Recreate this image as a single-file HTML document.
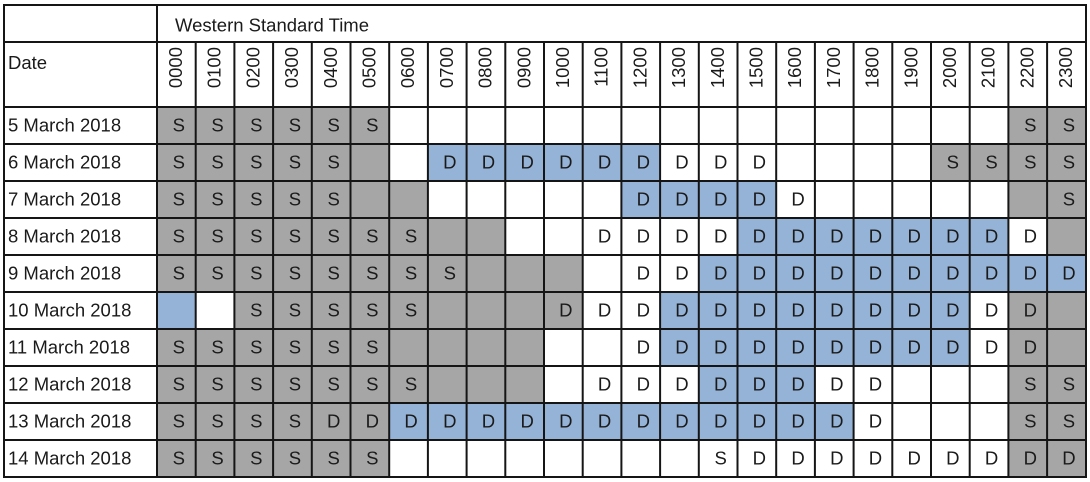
<!DOCTYPE html>
<html>
<head>
<meta charset="utf-8">
<style>
html,body{margin:0;padding:0;background:#fff;}
svg{display:block;}
text{font-family:"Liberation Sans",Arial,sans-serif;font-size:18.5px;fill:#1a1a1a;}
.c{text-anchor:middle;}
.g{fill:#a6a6a6;}
.b{fill:#95b3d7;}
.ln{stroke:#151515;stroke-width:2;fill:none;}
</style>
</head>
<body>
<svg width="1090" height="482" viewBox="0 0 1090 482" xmlns="http://www.w3.org/2000/svg">
<rect x="0" y="0" width="1090" height="482" fill="#fff"/>

<!-- Header -->
<text x="175" y="31.5">Western Standard Time</text>
<text x="8" y="69">Date</text>
<g>
<text transform="translate(182,47) rotate(-90)" text-anchor="end">0000</text>
<text transform="translate(220.7,47) rotate(-90)" text-anchor="end">0100</text>
<text transform="translate(259.4,47) rotate(-90)" text-anchor="end">0200</text>
<text transform="translate(298.1,47) rotate(-90)" text-anchor="end">0300</text>
<text transform="translate(336.8,47) rotate(-90)" text-anchor="end">0400</text>
<text transform="translate(375.5,47) rotate(-90)" text-anchor="end">0500</text>
<text transform="translate(414.2,47) rotate(-90)" text-anchor="end">0600</text>
<text transform="translate(452.9,47) rotate(-90)" text-anchor="end">0700</text>
<text transform="translate(491.6,47) rotate(-90)" text-anchor="end">0800</text>
<text transform="translate(530.3,47) rotate(-90)" text-anchor="end">0900</text>
<text transform="translate(569,47) rotate(-90)" text-anchor="end">1000</text>
<text transform="translate(607.7,47) rotate(-90)" text-anchor="end">1100</text>
<text transform="translate(646.4,47) rotate(-90)" text-anchor="end">1200</text>
<text transform="translate(685.1,47) rotate(-90)" text-anchor="end">1300</text>
<text transform="translate(723.8,47) rotate(-90)" text-anchor="end">1400</text>
<text transform="translate(762.5,47) rotate(-90)" text-anchor="end">1500</text>
<text transform="translate(801.2,47) rotate(-90)" text-anchor="end">1600</text>
<text transform="translate(839.9,47) rotate(-90)" text-anchor="end">1700</text>
<text transform="translate(878.6,47) rotate(-90)" text-anchor="end">1800</text>
<text transform="translate(917.3,47) rotate(-90)" text-anchor="end">1900</text>
<text transform="translate(956,47) rotate(-90)" text-anchor="end">2000</text>
<text transform="translate(994.7,47) rotate(-90)" text-anchor="end">2100</text>
<text transform="translate(1033.4,47) rotate(-90)" text-anchor="end">2200</text>
<text transform="translate(1072.1,47) rotate(-90)" text-anchor="end">2300</text>
</g>

<!-- Row 0: 5 March -->
<g transform="translate(0,107)">
<rect class="g" x="157" y="0" width="232.2" height="37"/>
<rect class="g" x="1008.4" y="0" width="77.4" height="37"/>
<text x="8" y="24.5">5 March 2018</text>
<text class="c" x="178.85" y="24.5">S</text><text class="c" x="217.55" y="24.5">S</text><text class="c" x="256.25" y="24.5">S</text><text class="c" x="294.95" y="24.5">S</text><text class="c" x="333.65" y="24.5">S</text><text class="c" x="372.35" y="24.5">S</text>
<text class="c" x="1030.25" y="24.5">S</text><text class="c" x="1068.95" y="24.5">S</text>
</g>

<!-- Row 1: 6 March -->
<g transform="translate(0,144)">
<rect class="g" x="157" y="0" width="232.2" height="37"/>
<rect class="b" x="427.9" y="0" width="232.2" height="37"/>
<rect class="g" x="931" y="0" width="154.8" height="37"/>
<text x="8" y="24.5">6 March 2018</text>
<text class="c" x="178.85" y="24.5">S</text><text class="c" x="217.55" y="24.5">S</text><text class="c" x="256.25" y="24.5">S</text><text class="c" x="294.95" y="24.5">S</text><text class="c" x="333.65" y="24.5">S</text>
<text class="c" x="449.75" y="24.5">D</text><text class="c" x="488.45" y="24.5">D</text><text class="c" x="527.15" y="24.5">D</text><text class="c" x="565.85" y="24.5">D</text><text class="c" x="604.55" y="24.5">D</text><text class="c" x="643.25" y="24.5">D</text><text class="c" x="681.95" y="24.5">D</text><text class="c" x="720.65" y="24.5">D</text><text class="c" x="759.35" y="24.5">D</text>
<text class="c" x="952.85" y="24.5">S</text><text class="c" x="991.55" y="24.5">S</text><text class="c" x="1030.25" y="24.5">S</text><text class="c" x="1068.95" y="24.5">S</text>
</g>

<!-- Row 2: 7 March -->
<g transform="translate(0,181)">
<rect class="g" x="157" y="0" width="270.9" height="37"/>
<rect class="b" x="621.4" y="0" width="154.8" height="37"/>
<rect class="g" x="1008.4" y="0" width="77.4" height="37"/>
<text x="8" y="24.5">7 March 2018</text>
<text class="c" x="178.85" y="24.5">S</text><text class="c" x="217.55" y="24.5">S</text><text class="c" x="256.25" y="24.5">S</text><text class="c" x="294.95" y="24.5">S</text><text class="c" x="333.65" y="24.5">S</text>
<text class="c" x="643.25" y="24.5">D</text><text class="c" x="681.95" y="24.5">D</text><text class="c" x="720.65" y="24.5">D</text><text class="c" x="759.35" y="24.5">D</text><text class="c" x="798.05" y="24.5">D</text>
<text class="c" x="1068.95" y="24.5">S</text>
</g>

<!-- Row 3: 8 March -->
<g transform="translate(0,218)">
<rect class="g" x="157" y="0" width="348.3" height="37"/>
<rect class="b" x="737.5" y="0" width="270.9" height="37"/>
<rect class="g" x="1047.1" y="0" width="38.7" height="37"/>
<text x="8" y="24.5">8 March 2018</text>
<text class="c" x="178.85" y="24.5">S</text><text class="c" x="217.55" y="24.5">S</text><text class="c" x="256.25" y="24.5">S</text><text class="c" x="294.95" y="24.5">S</text><text class="c" x="333.65" y="24.5">S</text><text class="c" x="372.35" y="24.5">S</text><text class="c" x="411.05" y="24.5">S</text>
<text class="c" x="604.55" y="24.5">D</text><text class="c" x="643.25" y="24.5">D</text><text class="c" x="681.95" y="24.5">D</text><text class="c" x="720.65" y="24.5">D</text><text class="c" x="759.35" y="24.5">D</text><text class="c" x="798.05" y="24.5">D</text><text class="c" x="836.75" y="24.5">D</text><text class="c" x="875.45" y="24.5">D</text><text class="c" x="914.15" y="24.5">D</text><text class="c" x="952.85" y="24.5">D</text><text class="c" x="991.55" y="24.5">D</text><text class="c" x="1030.25" y="24.5">D</text>
</g>

<!-- Row 4: 9 March -->
<g transform="translate(0,255)">
<rect class="g" x="157" y="0" width="425.7" height="37"/>
<rect class="b" x="698.8" y="0" width="387" height="37"/>
<text x="8" y="24.5">9 March 2018</text>
<text class="c" x="178.85" y="24.5">S</text><text class="c" x="217.55" y="24.5">S</text><text class="c" x="256.25" y="24.5">S</text><text class="c" x="294.95" y="24.5">S</text><text class="c" x="333.65" y="24.5">S</text><text class="c" x="372.35" y="24.5">S</text><text class="c" x="411.05" y="24.5">S</text><text class="c" x="449.75" y="24.5">S</text>
<text class="c" x="643.25" y="24.5">D</text><text class="c" x="681.95" y="24.5">D</text><text class="c" x="720.65" y="24.5">D</text><text class="c" x="759.35" y="24.5">D</text><text class="c" x="798.05" y="24.5">D</text><text class="c" x="836.75" y="24.5">D</text><text class="c" x="875.45" y="24.5">D</text><text class="c" x="914.15" y="24.5">D</text><text class="c" x="952.85" y="24.5">D</text><text class="c" x="991.55" y="24.5">D</text><text class="c" x="1030.25" y="24.5">D</text><text class="c" x="1068.95" y="24.5">D</text>
</g>

<!-- Row 5: 10 March -->
<g transform="translate(0,292)">
<rect class="b" x="157" y="0" width="38.7" height="37"/>
<rect class="g" x="234.4" y="0" width="348.3" height="37"/>
<rect class="b" x="660.1" y="0" width="309.6" height="37"/>
<rect class="g" x="1008.4" y="0" width="77.4" height="37"/>
<text x="8" y="24.5">10 March 2018</text>
<text class="c" x="256.25" y="24.5">S</text><text class="c" x="294.95" y="24.5">S</text><text class="c" x="333.65" y="24.5">S</text><text class="c" x="372.35" y="24.5">S</text><text class="c" x="411.05" y="24.5">S</text>
<text class="c" x="565.85" y="24.5">D</text><text class="c" x="604.55" y="24.5">D</text><text class="c" x="643.25" y="24.5">D</text><text class="c" x="681.95" y="24.5">D</text><text class="c" x="720.65" y="24.5">D</text><text class="c" x="759.35" y="24.5">D</text><text class="c" x="798.05" y="24.5">D</text><text class="c" x="836.75" y="24.5">D</text><text class="c" x="875.45" y="24.5">D</text><text class="c" x="914.15" y="24.5">D</text><text class="c" x="952.85" y="24.5">D</text><text class="c" x="991.55" y="24.5">D</text><text class="c" x="1030.25" y="24.5">D</text>
</g>

<!-- Row 6: 11 March -->
<g transform="translate(0,329)">
<rect class="g" x="157" y="0" width="387" height="37"/>
<rect class="b" x="660.1" y="0" width="309.6" height="37"/>
<rect class="g" x="1008.4" y="0" width="77.4" height="37"/>
<text x="8" y="24.5">11 March 2018</text>
<text class="c" x="178.85" y="24.5">S</text><text class="c" x="217.55" y="24.5">S</text><text class="c" x="256.25" y="24.5">S</text><text class="c" x="294.95" y="24.5">S</text><text class="c" x="333.65" y="24.5">S</text><text class="c" x="372.35" y="24.5">S</text>
<text class="c" x="643.25" y="24.5">D</text><text class="c" x="681.95" y="24.5">D</text><text class="c" x="720.65" y="24.5">D</text><text class="c" x="759.35" y="24.5">D</text><text class="c" x="798.05" y="24.5">D</text><text class="c" x="836.75" y="24.5">D</text><text class="c" x="875.45" y="24.5">D</text><text class="c" x="914.15" y="24.5">D</text><text class="c" x="952.85" y="24.5">D</text><text class="c" x="991.55" y="24.5">D</text><text class="c" x="1030.25" y="24.5">D</text>
</g>

<!-- Row 7: 12 March -->
<g transform="translate(0,366)">
<rect class="g" x="157" y="0" width="387" height="37"/>
<rect class="b" x="698.8" y="0" width="116.1" height="37"/>
<rect class="g" x="1008.4" y="0" width="77.4" height="37"/>
<text x="8" y="24.5">12 March 2018</text>
<text class="c" x="178.85" y="24.5">S</text><text class="c" x="217.55" y="24.5">S</text><text class="c" x="256.25" y="24.5">S</text><text class="c" x="294.95" y="24.5">S</text><text class="c" x="333.65" y="24.5">S</text><text class="c" x="372.35" y="24.5">S</text><text class="c" x="411.05" y="24.5">S</text>
<text class="c" x="604.55" y="24.5">D</text><text class="c" x="643.25" y="24.5">D</text><text class="c" x="681.95" y="24.5">D</text><text class="c" x="720.65" y="24.5">D</text><text class="c" x="759.35" y="24.5">D</text><text class="c" x="798.05" y="24.5">D</text><text class="c" x="836.75" y="24.5">D</text><text class="c" x="875.45" y="24.5">D</text>
<text class="c" x="1030.25" y="24.5">S</text><text class="c" x="1068.95" y="24.5">S</text>
</g>

<!-- Row 8: 13 March -->
<g transform="translate(0,403)">
<rect class="g" x="157" y="0" width="232.2" height="37"/>
<rect class="b" x="389.2" y="0" width="464.4" height="37"/>
<rect class="g" x="1008.4" y="0" width="77.4" height="37"/>
<text x="8" y="24.5">13 March 2018</text>
<text class="c" x="178.85" y="24.5">S</text><text class="c" x="217.55" y="24.5">S</text><text class="c" x="256.25" y="24.5">S</text><text class="c" x="294.95" y="24.5">S</text>
<text class="c" x="333.65" y="24.5">D</text><text class="c" x="372.35" y="24.5">D</text><text class="c" x="411.05" y="24.5">D</text><text class="c" x="449.75" y="24.5">D</text><text class="c" x="488.45" y="24.5">D</text><text class="c" x="527.15" y="24.5">D</text><text class="c" x="565.85" y="24.5">D</text><text class="c" x="604.55" y="24.5">D</text><text class="c" x="643.25" y="24.5">D</text><text class="c" x="681.95" y="24.5">D</text><text class="c" x="720.65" y="24.5">D</text><text class="c" x="759.35" y="24.5">D</text><text class="c" x="798.05" y="24.5">D</text><text class="c" x="836.75" y="24.5">D</text><text class="c" x="875.45" y="24.5">D</text>
<text class="c" x="1030.25" y="24.5">S</text><text class="c" x="1068.95" y="24.5">S</text>
</g>

<!-- Row 9: 14 March -->
<g transform="translate(0,440)">
<rect class="g" x="157" y="0" width="232.2" height="37"/>
<rect class="g" x="1008.4" y="0" width="77.4" height="37"/>
<text x="8" y="24.5">14 March 2018</text>
<text class="c" x="178.85" y="24.5">S</text><text class="c" x="217.55" y="24.5">S</text><text class="c" x="256.25" y="24.5">S</text><text class="c" x="294.95" y="24.5">S</text><text class="c" x="333.65" y="24.5">S</text><text class="c" x="372.35" y="24.5">S</text>
<text class="c" x="720.65" y="24.5">S</text>
<text class="c" x="759.35" y="24.5">D</text><text class="c" x="798.05" y="24.5">D</text><text class="c" x="836.75" y="24.5">D</text><text class="c" x="875.45" y="24.5">D</text><text class="c" x="914.15" y="24.5">D</text><text class="c" x="952.85" y="24.5">D</text><text class="c" x="991.55" y="24.5">D</text><text class="c" x="1030.25" y="24.5">D</text><text class="c" x="1068.95" y="24.5">D</text>
</g>

<!-- Grid lines -->
<g class="ln">
<path d="M4 5H1086M4 42H1086M4 107H1086M4 144H1086M4 181H1086M4 218H1086M4 255H1086M4 292H1086M4 329H1086M4 366H1086M4 403H1086M4 440H1086M4 477H1086"/>
<path d="M4 4V478M157 4V478M1086 4V478"/>
<path d="M195.7 42V477M234.4 42V477M273.1 42V477M311.8 42V477M350.5 42V477M389.2 42V477M427.9 42V477M466.6 42V477M505.3 42V477M544 42V477M582.7 42V477M621.4 42V477M660.1 42V477M698.8 42V477M737.5 42V477M776.2 42V477M814.9 42V477M853.6 42V477M892.3 42V477M931 42V477M969.7 42V477M1008.4 42V477M1047.1 42V477"/>
</g>
</svg>
</body>
</html>
